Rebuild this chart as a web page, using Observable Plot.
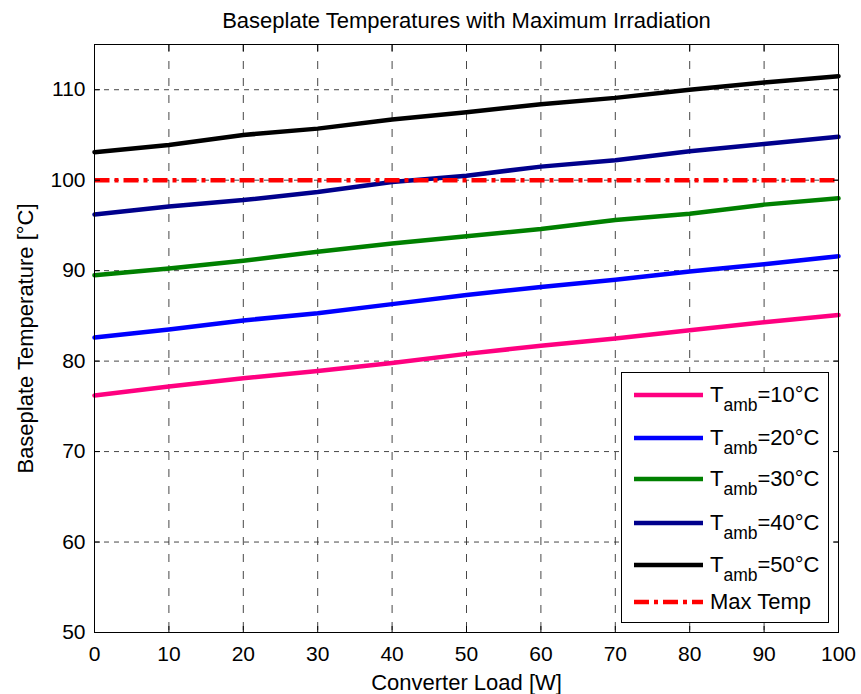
<!DOCTYPE html>
<html>
<head>
<meta charset="utf-8">
<script src="https://cdn.jsdelivr.net/npm/d3@7"></script>
<script src="https://cdn.jsdelivr.net/npm/@observablehq/plot@0.6"></script>
<style>
  body { margin: 0; background: #fff; }
  #wrap { position: relative; width: 861px; height: 694px; font-family: "Liberation Sans", Arial, Helvetica, sans-serif; }
  #legend { position: absolute; left: 621px; top: 372px; }
</style>
</head>
<body>
<div id="wrap"></div>
<script>
// ---- data ----
const load = [0, 10, 20, 30, 40, 50, 60, 70, 80, 90, 100];
const t10 = [76.2, 77.2, 78.1, 78.9, 79.8, 80.8, 81.7, 82.5, 83.4, 84.3, 85.1];
const t20 = [82.6, 83.5, 84.5, 85.3, 86.3, 87.3, 88.2, 89.0, 89.9, 90.7, 91.6];
const t30 = [89.5, 90.25, 91.1, 92.1, 93.0, 93.8, 94.6, 95.6, 96.3, 97.3, 98.0];
const t40 = [96.2, 97.1, 97.8, 98.7, 99.8, 100.5, 101.5, 102.2, 103.2, 104.0, 104.8];
const t50 = [103.1, 103.9, 105.0, 105.7, 106.7, 107.5, 108.4, 109.1, 110.0, 110.8, 111.5];
const maxTemp = 100;
const ambients = ["10", "20", "30", "40", "50"];
const seriesColors = ["#ff0080", "#0000ff", "#008000", "#00008c", "#000000"];
const maxColor = "#ff0000";
const xTicks = [0, 10, 20, 30, 40, 50, 60, 70, 80, 90, 100];
const yTicks = [50, 60, 70, 80, 90, 100, 110];
const titleText = "Baseplate Temperatures with Maximum Irradiation";
const xLabel = "Converter Load [W]";
const yLabel = "Baseplate Temperature [°C]";

const seriesValues = [t10, t20, t30, t40, t50];
const rows = [];
seriesValues.forEach((vals, i) => vals.forEach((v, j) => rows.push({load: load[j], temp: v, series: i})));
const maxRows = load.map(l => ({load: l, temp: maxTemp}));

const font = "'Liberation Sans', Arial, Helvetica, sans-serif";

const lineMarks = seriesValues.map((_, i) =>
  Plot.line(rows.filter(r => r.series === i), {x: "load", y: "temp", stroke: seriesColors[i], strokeWidth: 4.5, strokeLinejoin: "round"})
);

const chart = Plot.plot({
  width: 861,
  height: 694,
  marginLeft: 94,
  marginRight: 23,
  marginTop: 44,
  marginBottom: 62,
  style: {fontFamily: font, background: "white", color: "black"},
  x: {domain: [0, 100]},
  y: {domain: [50, 115]},
  marks: [
    Plot.gridX(xTicks, {stroke: "#333", strokeOpacity: 0.9, strokeDasharray: "8,9"}),
    Plot.gridY(yTicks, {stroke: "#333", strokeOpacity: 0.9, strokeDasharray: "5,5"}),
    ...lineMarks,
    Plot.line(maxRows, {x: "load", y: "temp", stroke: maxColor, strokeWidth: 4.5, strokeDasharray: "15,5,4,5", strokeLinecap: "butt"}),
    Plot.frame({stroke: "black", strokeWidth: 1}),
    Plot.axisX(xTicks, {anchor: "bottom", tickSize: -6, tickPadding: 20, fontSize: 21, label: null}),
    Plot.axisX(xTicks, {anchor: "top", tickSize: -6, tickFormat: () => "", label: null}),
    Plot.axisY(yTicks, {anchor: "left", tickSize: -6, tickPadding: 15, fontSize: 21, label: null}),
    Plot.axisY(yTicks, {anchor: "right", tickSize: -6, tickFormat: () => "", label: null}),
    Plot.text([titleText], {text: d => d, frameAnchor: "top", lineAnchor: "bottom", dy: -17, fontSize: 22}),
    Plot.text([xLabel], {text: d => d, frameAnchor: "bottom", lineAnchor: "bottom", dy: 57, fontSize: 22}),
    Plot.text([yLabel], {text: d => d, frameAnchor: "left", textAnchor: "middle", lineAnchor: "middle", rotate: -90, dx: -69, fontSize: 22})
  ]
});

const wrap = document.getElementById("wrap");
wrap.appendChild(chart);

// ---- legend (inside the axes, as in the reference) ----
const legendItems = ambients.map((a, i) => ({kind: "amb", value: a, color: seriesColors[i]}))
  .concat([{kind: "max", value: "Max Temp", color: maxColor}]);
const rowY = [23, 66, 107, 151, 193, 230];
const lw = 208, lh = 251;
const leg = d3.create("svg").attr("id", "legend").attr("width", lw).attr("height", lh)
  .style("font-family", font);
leg.append("rect").attr("x", 0.5).attr("y", 0.5).attr("width", lw - 1).attr("height", lh - 1)
  .attr("fill", "white").attr("stroke", "black");
legendItems.forEach((d, i) => {
  const y = rowY[i];
  leg.append("line").attr("x1", 13).attr("x2", 82).attr("y1", y).attr("y2", y)
    .attr("stroke", d.color).attr("stroke-width", 4.5)
    .attr("stroke-dasharray", d.kind === "max" ? "15,5,4,5" : null);
  const t = leg.append("text").attr("x", 89).attr("y", y + 7).attr("font-size", 22).attr("fill", "black");
  if (d.kind === "amb") {
    t.append("tspan").text("T");
    t.append("tspan").attr("font-size", 17.5).attr("dy", 9).text("amb");
    t.append("tspan").attr("dy", -9).text("=" + d.value + "°C");
  } else {
    t.text(d.value);
  }
});
wrap.appendChild(leg.node());
</script>
</body>
</html>
